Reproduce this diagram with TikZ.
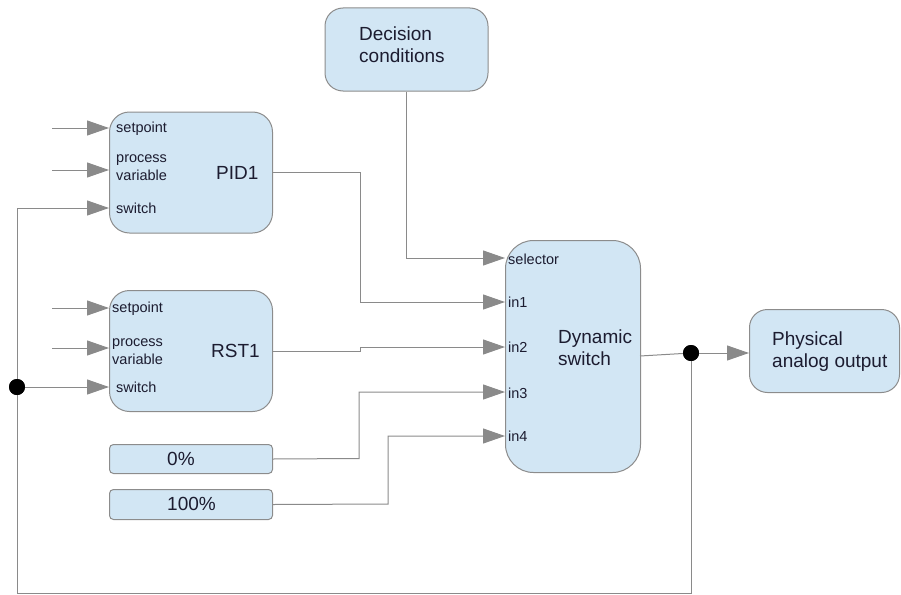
\documentclass[tikz,border=0pt]{standalone}
\usepackage{fontspec}
\setmainfont{Liberation Sans}
\usetikzlibrary{arrows.meta}
\definecolor{boxfill}{HTML}{D2E6F4}
\definecolor{boxdraw}{HTML}{8C8C8C}
\definecolor{wirec}{HTML}{8A8A8A}
\definecolor{txt}{HTML}{1C1C30}
\tikzset{
  blk/.style={draw=boxdraw, fill=boxfill, line width=1pt, inner sep=0pt, anchor=north west},
  wire/.style={draw=wirec, line width=1pt},
  arr/.style={wire, -{Triangle[length=22pt,width=15pt]}, color=wirec},
  small/.style={font=\fontsize{14.5}{18}\selectfont, text=txt, inner sep=0pt, anchor=west, align=left},
  big/.style={font=\fontsize{19}{22}\selectfont, text=txt, inner sep=0pt, anchor=west, align=left},
  jdot/.style={circle, fill=black, minimum size=16pt, inner sep=0pt},
}
\begin{document}
\begin{tikzpicture}[x=1pt,y=-1pt]
\useasboundingbox (0,0) rectangle (901,594);
% boxes
\node[blk, rounded corners=18pt, minimum width=163pt, minimum height=83pt] (dec) at (324.5,7.5) {};
\node[blk, rounded corners=20pt, minimum width=163pt, minimum height=121pt] (pid) at (109,111.5) {};
\node[blk, rounded corners=20pt, minimum width=163pt, minimum height=121pt] (rst) at (109,290) {};
\node[blk, rounded corners=4pt, minimum width=163pt, minimum height=29pt] (zero) at (109,444) {};
\node[blk, rounded corners=4pt, minimum width=163pt, minimum height=30pt] (hund) at (109,489) {};
\node[blk, rounded corners=28pt, minimum width=135pt, minimum height=232pt] (dyn) at (505,240) {};
\node[blk, rounded corners=18pt, minimum width=150pt, minimum height=83pt] (phy) at (749,309) {};
% texts
\node[big] (dectxt) at (359,44.5) {Decision\\conditions};
\node[big] (pidtxt) at (216,173) {PID1};
\node[big] (rsttxt) at (211,350.5) {RST1};
\node[big] (dyntxt) at (558,347.5) {Dynamic\\switch};
\node[big] (phytxt) at (772,352) {Physical\\analog output};
\node[big] (zerotxt) at (167,458.5) {0\%};
\node[big] (hundtxt) at (167,503.5) {100\%};
\node[small] (pidsp) at (116,129) {setpoint};
\node[small] (pidpv) at (116,167.5) {process\\variable};
\node[small] (pidsw) at (116,208) {switch};
\node[small] (rstsp) at (112,308.5) {setpoint};
\node[small] (rstpv) at (112,352) {process\\variable};
\node[small] (rstsw) at (116,387.5) {switch};
\node[small] (dsel) at (508,259) {selector};
\node[small] (din1) at (508,302.5) {in1};
\node[small] (din2) at (508,347.5) {in2};
\node[small] (din3) at (508,393) {in3};
\node[small] (din4) at (508,436.5) {in4};
% port coordinates
\coordinate (pidin1) at (109,128);
\coordinate (pidin2) at (109,170);
\coordinate (pidin3) at (109,208);
\coordinate (rstin1) at (109,308);
\coordinate (rstin2) at (109,348);
\coordinate (rstin3) at (109,387);
\coordinate (s1) at (52,128);
\coordinate (s2) at (52,170);
\coordinate (s3) at (52,308);
\coordinate (s4) at (52,348);
\coordinate (dsel p) at (505,258);
\coordinate (din1 p) at (505,302);
\coordinate (din2 p) at (505,347);
\coordinate (din3 p) at (505,392);
\coordinate (din4 p) at (505,436);
\node[jdot] (jr) at (691,353) {};
\node[jdot] (jl) at (17,387) {};
% external inputs
\draw[arr] (s1) -- (pidin1);
\draw[arr] (s2) -- (pidin2);
\draw[arr] (s3) -- (rstin1);
\draw[arr] (s4) -- (rstin2);
% decision
\draw[arr] (dec.south -| 406,0) -- (406,258) -- (dsel p);
% PID out
\draw[arr] (272,172) -- (360,172) -- (360,302) -- (din1 p);
% RST out
\draw[arr] (272,351) -- (360,351) -- (360,347) -- (din2 p);
% constants
\draw[arr] (zero.east) -- (359,458.5) -- (359,392) -- (din3 p);
\draw[arr] (hund.east) -- (388,504) -- (388,436) -- (din4 p);
% output
\draw[wire] (640,356) -- (jr.center);
\draw[arr] (jr.center) -- (phy.west |- jr);
% feedback
\draw[wire] (jr.center) -- (691,593) -- (17,593) -- (17,208);
\draw[arr] (17,208) -- (pidin3);
\draw[arr] (jl.center) -- (rstin3);
\node[jdot] at (jr) {};
\node[jdot] at (jl) {};
\end{tikzpicture}
\end{document}
